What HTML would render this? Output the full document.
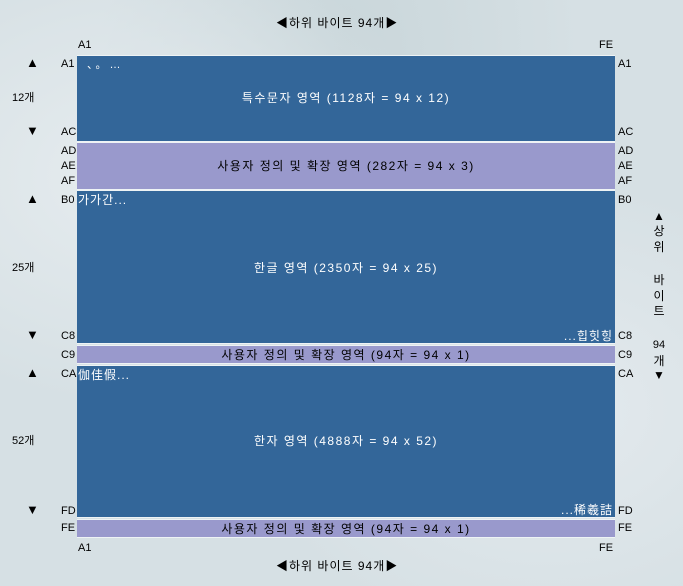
<!DOCTYPE html>
<html><head><meta charset="utf-8"><style>
html,body{margin:0;padding:0}
body{width:683px;height:586px;position:relative;overflow:hidden;
background:radial-gradient(ellipse at 20% 30%,#e6ecef 0,transparent 40%),radial-gradient(ellipse at 80% 70%,#e4eaee 0,transparent 40%),radial-gradient(ellipse at 50% 10%,#c9d6da 0,transparent 50%),#d6e0e4;
font-family:"Liberation Sans","Noto Sans CJK KR","NanumGothic",sans-serif;font-size:11px;color:#000}
.t{position:absolute;white-space:nowrap;line-height:12px}
.blk{position:absolute;left:77px;width:538px;box-shadow:0 1px 0 #eef3f5,0 -1px 0 #eef3f5}
.blue{background:#336699;color:#fff}
.pur{background:#9999cc;color:#000}
.c{position:absolute;left:0;right:0;text-align:center;letter-spacing:1.5px;font-size:12px;line-height:14px}
.v{position:absolute;left:652px;width:14px;text-align:center;line-height:14px;font-size:12px}
</style></head><body>
<div class="t" style="left:276px;top:17px;font-size:12px;letter-spacing:1px">◀하위 바이트 94개▶</div>
<div class="t" style="left:276px;top:560px;font-size:12px;letter-spacing:1px">◀하위 바이트 94개▶</div>
<div class="t" style="left:78px;top:39px">A1</div>
<div class="t" style="left:599px;top:39px">FE</div>
<div class="t" style="left:78px;top:542px">A1</div>
<div class="t" style="left:599px;top:542px">FE</div>

<div class="blk blue" style="top:56px;height:85px">
<div class="t" style="left:10px;top:3px;letter-spacing:3px">、。…</div>
<div class="c" style="top:35px">특수문자 영역 (1128자 = 94 x 12)</div></div>
<div class="blk pur" style="top:143px;height:46px">
<div class="c" style="top:16px">사용자 정의 및 확장 영역 (282자 = 94 x 3)</div></div>
<div class="blk blue" style="top:191px;height:152px">
<div class="t" style="left:1px;top:3px;font-size:12px;letter-spacing:1px">가가간...</div>
<div class="c" style="top:70px">한글 영역 (2350자 = 94 x 25)</div>
<div class="t" style="right:2px;top:139px;font-size:12px;letter-spacing:1px">...힙힛힝</div></div>
<div class="blk pur" style="top:346px;height:17px">
<div class="c" style="top:2px">사용자 정의 및 확장 영역 (94자 = 94 x 1)</div></div>
<div class="blk blue" style="top:366px;height:151px">
<div class="t" style="left:1px;top:3px;font-size:12px;letter-spacing:1px">伽佳假...</div>
<div class="c" style="top:68px">한자 영역 (4888자 = 94 x 52)</div>
<div class="t" style="right:2px;top:138px;font-size:12px;letter-spacing:1px">...稀羲詰</div></div>
<div class="blk pur" style="top:520px;height:17px">
<div class="c" style="top:2px">사용자 정의 및 확장 영역 (94자 = 94 x 1)</div></div>

<div class="t" style="left:61px;top:58px">A1</div>
<div class="t" style="left:61px;top:126px">AC</div>
<div class="t" style="left:61px;top:145px">AD</div>
<div class="t" style="left:61px;top:160px">AE</div>
<div class="t" style="left:61px;top:175px">AF</div>
<div class="t" style="left:61px;top:194px">B0</div>
<div class="t" style="left:61px;top:330px">C8</div>
<div class="t" style="left:61px;top:349px">C9</div>
<div class="t" style="left:61px;top:368px">CA</div>
<div class="t" style="left:61px;top:505px">FD</div>
<div class="t" style="left:61px;top:522px">FE</div>
<div class="t" style="left:618px;top:58px">A1</div>
<div class="t" style="left:618px;top:126px">AC</div>
<div class="t" style="left:618px;top:145px">AD</div>
<div class="t" style="left:618px;top:160px">AE</div>
<div class="t" style="left:618px;top:175px">AF</div>
<div class="t" style="left:618px;top:194px">B0</div>
<div class="t" style="left:618px;top:330px">C8</div>
<div class="t" style="left:618px;top:349px">C9</div>
<div class="t" style="left:618px;top:368px">CA</div>
<div class="t" style="left:618px;top:505px">FD</div>
<div class="t" style="left:618px;top:522px">FE</div>
<div class="t" style="left:26px;top:57px;font-size:13px">▲</div>
<div class="t" style="left:12px;top:92px">12개</div>
<div class="t" style="left:26px;top:125px;font-size:13px">▼</div>
<div class="t" style="left:26px;top:193px;font-size:13px">▲</div>
<div class="t" style="left:12px;top:262px">25개</div>
<div class="t" style="left:26px;top:329px;font-size:13px">▼</div>
<div class="t" style="left:26px;top:367px;font-size:13px">▲</div>
<div class="t" style="left:12px;top:435px">52개</div>
<div class="t" style="left:26px;top:504px;font-size:13px">▼</div>
<div>
<div class="v" style="top:209px">▲</div>
<div class="v" style="top:224px">상</div>
<div class="v" style="top:240px">위</div>
<div class="v" style="top:273px">바</div>
<div class="v" style="top:289px">이</div>
<div class="v" style="top:304px">트</div>
<div class="v" style="top:338px;font-size:11px">94</div>
<div class="v" style="top:354px">개</div>
<div class="v" style="top:368px">▼</div>
</div>
</body></html>
